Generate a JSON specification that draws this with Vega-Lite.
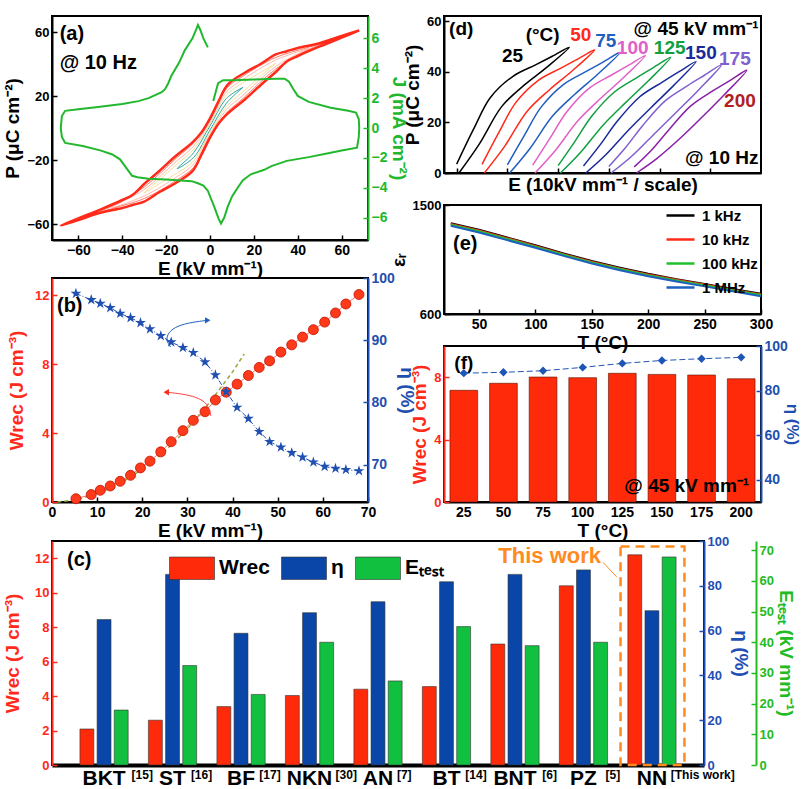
{
"$schema": "https://vega.github.io/schema/vega-lite/v6.json",
"padding": {"left": 2, "top": 14, "right": 0, "bottom": 0},
"background": "white",
"spacing": -7,
"resolve": {"scale": {"color": "independent", "fill": "independent"}, "legend": {"color": "independent", "fill": "independent"}},
"datasets": {
"dsAouter": [{"o":1,"E":68,"P":61},{"o":2,"E":60,"P":57.5},{"o":3,"E":50,"P":53},{"o":4,"E":40,"P":50},{"o":5,"E":35,"P":48},{"o":6,"E":30,"P":46},{"o":7,"E":23,"P":40},{"o":8,"E":16,"P":34.7},{"o":9,"E":8,"P":27},{"o":10,"E":4,"P":17},{"o":11,"E":0,"P":6},{"o":12,"E":-4,"P":-3},{"o":13,"E":-8,"P":-9},{"o":14,"E":-16,"P":-18},{"o":15,"E":-24,"P":-28},{"o":16,"E":-30,"P":-35},{"o":17,"E":-35,"P":-41.5},{"o":18,"E":-40,"P":-45},{"o":19,"E":-50,"P":-51},{"o":20,"E":-60,"P":-56.5},{"o":21,"E":-68,"P":-61},{"o":22,"E":-60,"P":-57.5},{"o":23,"E":-50,"P":-53},{"o":24,"E":-40,"P":-50},{"o":25,"E":-35,"P":-48},{"o":26,"E":-30,"P":-46},{"o":27,"E":-23,"P":-40},{"o":28,"E":-16,"P":-34.7},{"o":29,"E":-8,"P":-27},{"o":30,"E":-4,"P":-17},{"o":31,"E":0,"P":-6},{"o":32,"E":4,"P":3},{"o":33,"E":8,"P":9},{"o":34,"E":16,"P":18},{"o":35,"E":24,"P":28},{"o":36,"E":30,"P":35},{"o":37,"E":35,"P":41.5},{"o":38,"E":40,"P":45},{"o":39,"E":50,"P":51},{"o":40,"E":60,"P":56.5},{"o":41,"E":68,"P":61}],
"dsAinner": [
{"m":"m15","o":1,"E":15,"P":25.4},{"m":"m15","o":2,"E":7.5,"P":18.5},{"m":"m15","o":3,"E":0,"P":1.3},{"m":"m15","o":4,"E":-7.5,"P":-15.5},{"m":"m15","o":5,"E":-15,"P":-25.4},{"m":"m15","o":6,"E":-7.5,"P":-18.5},{"m":"m15","o":7,"E":0,"P":-1.3},{"m":"m15","o":8,"E":7.5,"P":15.5},{"m":"m15","o":9,"E":15,"P":25.4},
{"m":"m30","o":1,"E":30,"P":40.5},{"m":"m30","o":2,"E":22.5,"P":34.3},{"m":"m30","o":3,"E":15,"P":28.2},{"m":"m30","o":4,"E":7.5,"P":20.6},{"m":"m30","o":5,"E":0,"P":2.6},{"m":"m30","o":6,"E":-7.5,"P":-13.4},{"m":"m30","o":7,"E":-15,"P":-22.6},{"m":"m30","o":8,"E":-22.5,"P":-31.7},{"m":"m30","o":9,"E":-30,"P":-40.5},{"m":"m30","o":10,"E":-22.5,"P":-34.3},{"m":"m30","o":11,"E":-15,"P":-28.2},{"m":"m30","o":12,"E":-7.5,"P":-20.6},{"m":"m30","o":13,"E":0,"P":-2.6},{"m":"m30","o":14,"E":7.5,"P":13.4},{"m":"m30","o":15,"E":15,"P":22.6},{"m":"m30","o":16,"E":22.5,"P":31.7},{"m":"m30","o":17,"E":30,"P":40.5},
{"m":"m45","o":1,"E":45,"P":49.8},{"m":"m45","o":2,"E":30,"P":42.5},{"m":"m45","o":3,"E":15,"P":30.4},{"m":"m45","o":4,"E":7.5,"P":22.6},{"m":"m45","o":5,"E":0,"P":4},{"m":"m45","o":6,"E":-7.5,"P":-11.4},{"m":"m45","o":7,"E":-15,"P":-20.4},{"m":"m45","o":8,"E":-30,"P":-38.5},{"m":"m45","o":9,"E":-45,"P":-49.8},{"m":"m45","o":10,"E":-30,"P":-42.5},{"m":"m45","o":11,"E":-15,"P":-30.4},{"m":"m45","o":12,"E":-7.5,"P":-22.6},{"m":"m45","o":13,"E":0,"P":-4},{"m":"m45","o":14,"E":7.5,"P":11.4},{"m":"m45","o":15,"E":15,"P":20.4},{"m":"m45","o":16,"E":30,"P":38.5},{"m":"m45","o":17,"E":45,"P":49.8},
{"m":"m60","o":1,"E":60,"P":57},{"m":"m60","o":2,"E":45,"P":50.5},{"m":"m60","o":3,"E":30,"P":44.1},{"m":"m60","o":4,"E":15,"P":32.4},{"m":"m60","o":5,"E":7.5,"P":24.6},{"m":"m60","o":6,"E":0,"P":5.3},{"m":"m60","o":7,"E":-7.5,"P":-9.4},{"m":"m60","o":8,"E":-15,"P":-18.4},{"m":"m60","o":9,"E":-30,"P":-36.9},{"m":"m60","o":10,"E":-45,"P":-49.1},{"m":"m60","o":11,"E":-60,"P":-57},{"m":"m60","o":12,"E":-45,"P":-50.5},{"m":"m60","o":13,"E":-30,"P":-44.1},{"m":"m60","o":14,"E":-15,"P":-32.4},{"m":"m60","o":15,"E":-7.5,"P":-24.6},{"m":"m60","o":16,"E":0,"P":-5.3},{"m":"m60","o":17,"E":7.5,"P":9.4},{"m":"m60","o":18,"E":15,"P":18.4},{"m":"m60","o":19,"E":30,"P":36.9},{"m":"m60","o":20,"E":45,"P":49.1},{"m":"m60","o":21,"E":60,"P":57}
],
"dsAJ": [{"o":1,"E":1.5,"J":1.8},{"o":2,"E":2.2,"J":2.2},{"o":3,"E":3.7,"J":3.0},{"o":4,"E":6,"J":3.2},{"o":5,"E":10.5,"J":3.2},{"o":6,"E":20,"J":3.25},{"o":7,"E":30,"J":3.3},{"o":8,"E":34,"J":3.3},{"o":9,"E":36,"J":3.1},{"o":10,"E":38,"J":2.6},{"o":11,"E":40,"J":2.15},{"o":12,"E":45,"J":1.75},{"o":13,"E":55,"J":1.36},{"o":14,"E":63,"J":1.15},{"o":15,"E":66.5,"J":1.03},{"o":16,"E":67.8,"J":0.6},{"o":17,"E":68,"J":0},{"o":18,"E":67.8,"J":-0.6},{"o":19,"E":67,"J":-1.32},{"o":20,"E":60,"J":-1.5},{"o":21,"E":55,"J":-1.66},{"o":22,"E":45,"J":-1.95},{"o":23,"E":35,"J":-2.2},{"o":24,"E":28,"J":-2.55},{"o":25,"E":24.7,"J":-2.8},{"o":26,"E":18.6,"J":-3.1},{"o":27,"E":15,"J":-3.5},{"o":28,"E":12.6,"J":-4},{"o":29,"E":10,"J":-4.6},{"o":30,"E":8,"J":-5.3},{"o":31,"E":6.5,"J":-6.0},{"o":32,"E":5,"J":-6.4},{"o":33,"E":4,"J":-6.1},{"o":34,"E":3,"J":-5.7},{"o":35,"E":2,"J":-5.3},{"o":36,"E":-1,"J":-4.2},{"o":37,"E":-3,"J":-3.85},{"o":38,"E":-5.5,"J":-3.7},{"o":39,"E":-8.4,"J":-3.56},{"o":40,"E":-20,"J":-3.45},{"o":41,"E":-28,"J":-3.4},{"o":42,"E":-33,"J":-3.3},{"o":43,"E":-35.5,"J":-3.2},{"o":44,"E":-37,"J":-2.9},{"o":45,"E":-38.5,"J":-2.6},{"o":46,"E":-41,"J":-2.1},{"o":47,"E":-44.5,"J":-1.77},{"o":48,"E":-50,"J":-1.5},{"o":49,"E":-58,"J":-1.2},{"o":50,"E":-66,"J":-1.0},{"o":51,"E":-67.5,"J":-0.6},{"o":52,"E":-68,"J":0},{"o":53,"E":-67.5,"J":0.8},{"o":54,"E":-66,"J":1.15},{"o":55,"E":-60,"J":1.25},{"o":56,"E":-51,"J":1.41},{"o":57,"E":-40,"J":1.6},{"o":58,"E":-32.6,"J":1.8},{"o":59,"E":-28,"J":2.0},{"o":60,"E":-25,"J":2.2},{"o":61,"E":-22,"J":2.4},{"o":62,"E":-20.5,"J":2.6},{"o":63,"E":-19,"J":3.0},{"o":64,"E":-17.6,"J":3.5},{"o":65,"E":-14,"J":4.4},{"o":66,"E":-11.5,"J":5.2},{"o":67,"E":-8,"J":6.0},{"o":68,"E":-6,"J":6.7},{"o":69,"E":-5.5,"J":6.9},{"o":70,"E":-4.5,"J":6.6},{"o":71,"E":-3,"J":6.0},{"o":72,"E":-1,"J":5.4}],
"dsD": [
{"T":"25","o":1,"k":0.09,"P":0},{"T":"25","o":2,"k":0.89,"P":11.4},{"T":"25","o":3,"k":1.78,"P":26.3},{"T":"25","o":4,"k":2.66,"P":34.7},{"T":"25","o":5,"k":3.55,"P":41.7},{"T":"25","o":6,"k":4.44,"P":49.6},{"T":"25","o":7,"k":3.77,"P":46.1},{"T":"25","o":8,"k":3.11,"P":42.7},{"T":"25","o":9,"k":2.22,"P":38.2},{"T":"25","o":10,"k":1.33,"P":29.8},{"T":"25","o":11,"k":0.67,"P":17.4},{"T":"25","o":12,"k":0,"P":3.5},
{"T":"50","o":1,"k":1.09,"P":0},{"T":"50","o":2,"k":1.89,"P":10.5},{"T":"50","o":3,"k":2.78,"P":24.4},{"T":"50","o":4,"k":3.66,"P":32.9},{"T":"50","o":5,"k":4.55,"P":40.3},{"T":"50","o":6,"k":5.44,"P":48.6},{"T":"50","o":7,"k":4.77,"P":45.0},{"T":"50","o":8,"k":4.11,"P":41.4},{"T":"50","o":9,"k":3.22,"P":36.6},{"T":"50","o":10,"k":2.33,"P":27.8},{"T":"50","o":11,"k":1.67,"P":16.1},{"T":"50","o":12,"k":1,"P":3.4},
{"T":"75","o":1,"k":2.09,"P":0},{"T":"75","o":2,"k":2.89,"P":9.7},{"T":"75","o":3,"k":3.78,"P":22.5},{"T":"75","o":4,"k":4.66,"P":31.1},{"T":"75","o":5,"k":5.55,"P":38.9},{"T":"75","o":6,"k":6.44,"P":47.6},{"T":"75","o":7,"k":5.77,"P":43.8},{"T":"75","o":8,"k":5.11,"P":40.1},{"T":"75","o":9,"k":4.22,"P":35.0},{"T":"75","o":10,"k":3.33,"P":26.0},{"T":"75","o":11,"k":2.67,"P":14.9},{"T":"75","o":12,"k":2,"P":3.2},
{"T":"100","o":1,"k":3.09,"P":0},{"T":"100","o":2,"k":3.89,"P":8.9},{"T":"100","o":3,"k":4.78,"P":20.6},{"T":"100","o":4,"k":5.66,"P":29.3},{"T":"100","o":5,"k":6.55,"P":37.4},{"T":"100","o":6,"k":7.44,"P":46.4},{"T":"100","o":7,"k":6.77,"P":42.5},{"T":"100","o":8,"k":6.11,"P":38.7},{"T":"100","o":9,"k":5.22,"P":33.4},{"T":"100","o":10,"k":4.33,"P":24.0},{"T":"100","o":11,"k":3.67,"P":13.6},{"T":"100","o":12,"k":3,"P":3.1},
{"T":"125","o":1,"k":4.09,"P":0},{"T":"125","o":2,"k":4.89,"P":8.2},{"T":"125","o":3,"k":5.78,"P":19.0},{"T":"125","o":4,"k":6.66,"P":27.8},{"T":"125","o":5,"k":7.55,"P":36.3},{"T":"125","o":6,"k":8.44,"P":45.7},{"T":"125","o":7,"k":7.77,"P":41.7},{"T":"125","o":8,"k":7.11,"P":37.7},{"T":"125","o":9,"k":6.22,"P":32.0},{"T":"125","o":10,"k":5.33,"P":22.5},{"T":"125","o":11,"k":4.67,"P":12.6},{"T":"125","o":12,"k":4,"P":2.9},
{"T":"150","o":1,"k":5.09,"P":0},{"T":"150","o":2,"k":5.89,"P":7.3},{"T":"150","o":3,"k":6.78,"P":17.0},{"T":"150","o":4,"k":7.66,"P":25.8},{"T":"150","o":5,"k":8.55,"P":34.5},{"T":"150","o":6,"k":9.44,"P":44.0},{"T":"150","o":7,"k":8.77,"P":40.0},{"T":"150","o":8,"k":8.11,"P":35.9},{"T":"150","o":9,"k":7.22,"P":30.1},{"T":"150","o":10,"k":6.33,"P":20.4},{"T":"150","o":11,"k":5.67,"P":11.3},{"T":"150","o":12,"k":5,"P":2.8},
{"T":"175","o":1,"k":6.09,"P":0},{"T":"175","o":2,"k":6.89,"P":6.5},{"T":"175","o":3,"k":7.78,"P":15.3},{"T":"175","o":4,"k":8.66,"P":24.0},{"T":"175","o":5,"k":9.55,"P":32.9},{"T":"175","o":6,"k":10.44,"P":42.7},{"T":"175","o":7,"k":9.77,"P":38.6},{"T":"175","o":8,"k":9.11,"P":34.5},{"T":"175","o":9,"k":8.22,"P":28.5},{"T":"175","o":10,"k":7.33,"P":18.7},{"T":"175","o":11,"k":6.67,"P":10.2},{"T":"175","o":12,"k":6,"P":2.6},
{"T":"200","o":1,"k":7.09,"P":0},{"T":"200","o":2,"k":7.89,"P":5.7},{"T":"200","o":3,"k":8.78,"P":13.4},{"T":"200","o":4,"k":9.66,"P":21.9},{"T":"200","o":5,"k":10.55,"P":30.9},{"T":"200","o":6,"k":11.44,"P":40.6},{"T":"200","o":7,"k":10.77,"P":36.5},{"T":"200","o":8,"k":10.11,"P":32.5},{"T":"200","o":9,"k":9.22,"P":26.4},{"T":"200","o":10,"k":8.33,"P":16.6},{"T":"200","o":11,"k":7.67,"P":8.9},{"T":"200","o":12,"k":7,"P":2.4}
],
"dsE": [
{"f":"1 kHz","T":25,"e":1350},{"f":"1 kHz","T":50,"e":1295},{"f":"1 kHz","T":75,"e":1232},{"f":"1 kHz","T":100,"e":1168},{"f":"1 kHz","T":125,"e":1100},{"f":"1 kHz","T":150,"e":1037},{"f":"1 kHz","T":175,"e":982},{"f":"1 kHz","T":200,"e":932},{"f":"1 kHz","T":225,"e":888},{"f":"1 kHz","T":250,"e":848},{"f":"1 kHz","T":275,"e":806},{"f":"1 kHz","T":300,"e":767},
{"f":"10 kHz","T":25,"e":1344},{"f":"10 kHz","T":50,"e":1289},{"f":"10 kHz","T":75,"e":1226},{"f":"10 kHz","T":100,"e":1162},{"f":"10 kHz","T":125,"e":1094},{"f":"10 kHz","T":150,"e":1031},{"f":"10 kHz","T":175,"e":976},{"f":"10 kHz","T":200,"e":927},{"f":"10 kHz","T":225,"e":883},{"f":"10 kHz","T":250,"e":843},{"f":"10 kHz","T":275,"e":801},{"f":"10 kHz","T":300,"e":762},
{"f":"100 kHz","T":25,"e":1338},{"f":"100 kHz","T":50,"e":1283},{"f":"100 kHz","T":75,"e":1220},{"f":"100 kHz","T":100,"e":1156},{"f":"100 kHz","T":125,"e":1089},{"f":"100 kHz","T":150,"e":1026},{"f":"100 kHz","T":175,"e":971},{"f":"100 kHz","T":200,"e":921},{"f":"100 kHz","T":225,"e":877},{"f":"100 kHz","T":250,"e":837},{"f":"100 kHz","T":275,"e":796},{"f":"100 kHz","T":300,"e":757},
{"f":"1 MHz","T":25,"e":1328},{"f":"1 MHz","T":50,"e":1273},{"f":"1 MHz","T":75,"e":1210},{"f":"1 MHz","T":100,"e":1147},{"f":"1 MHz","T":125,"e":1080},{"f":"1 MHz","T":150,"e":1017},{"f":"1 MHz","T":175,"e":962},{"f":"1 MHz","T":200,"e":912},{"f":"1 MHz","T":225,"e":868},{"f":"1 MHz","T":250,"e":828},{"f":"1 MHz","T":275,"e":787},{"f":"1 MHz","T":300,"e":747}
],
"dsB": [{"E":5.3,"W":0.19,"eta":97.5},{"E":8.7,"W":0.43,"eta":96.5},{"E":10.7,"W":0.68,"eta":95.9},{"E":12.9,"W":0.93,"eta":95.2},{"E":15.1,"W":1.20,"eta":94.3},{"E":17.4,"W":1.55,"eta":93.6},{"E":19.6,"W":1.98,"eta":92.8},{"E":21.7,"W":2.37,"eta":91.8},{"E":24.1,"W":2.91,"eta":90.7},{"E":26.4,"W":3.50,"eta":89.7},{"E":29.0,"W":4.14,"eta":88.8},{"E":31.3,"W":4.74,"eta":88.0},{"E":33.9,"W":5.24,"eta":86.5},{"E":36.2,"W":5.92,"eta":84.4},{"E":38.6,"W":6.37,"eta":81.7},{"E":41.0,"W":6.84,"eta":79.2},{"E":43.5,"W":7.34,"eta":77.4},{"E":45.9,"W":7.81,"eta":75.3},{"E":48.2,"W":8.19,"eta":73.7},{"E":50.7,"W":8.70,"eta":72.8},{"E":53.1,"W":9.12,"eta":71.9},{"E":55.5,"W":9.57,"eta":71.2},{"E":57.9,"W":10.00,"eta":70.4},{"E":60.4,"W":10.44,"eta":69.7},{"E":62.8,"W":10.97,"eta":69.4},{"E":65.1,"W":11.49,"eta":69.2},{"E":68.0,"W":12.04,"eta":69.0}],
"dsBfit": [{"E":1.2,"W":0},{"E":5,"W":0.12},{"E":10,"W":0.47},{"E":15,"W":1.06},{"E":20,"W":1.9},{"E":25,"W":2.95},{"E":30,"W":4.25},{"E":35,"W":5.8},{"E":40,"W":7.55},{"E":42.6,"W":8.6}],
"dsF": [{"T":"25","W":7.16,"eta":87.8},{"T":"50","W":7.61,"eta":88.2},{"T":"75","W":8.01,"eta":88.9},{"T":"100","W":7.97,"eta":90.4},{"T":"125","W":8.25,"eta":92.2},{"T":"150","W":8.18,"eta":93.5},{"T":"175","W":8.14,"eta":94.3},{"T":"200","W":7.90,"eta":94.9}],
"dsC": [
{"m":"BKT","s":"W","v":2.09},{"m":"BKT","s":"eta","v":64.9},{"m":"BKT","s":"E","v":17.9},
{"m":"ST","s":"W","v":2.6},{"m":"ST","s":"eta","v":85.1},{"m":"ST","s":"E","v":32.4},
{"m":"BF","s":"W","v":3.39},{"m":"BF","s":"eta","v":58.8},{"m":"BF","s":"E","v":23.0},
{"m":"NKN","s":"W","v":4.03},{"m":"NKN","s":"eta","v":68.0},{"m":"NKN","s":"E","v":40.0},
{"m":"AN","s":"W","v":4.4},{"m":"AN","s":"eta","v":72.9},{"m":"AN","s":"E","v":27.4},
{"m":"BT","s":"W","v":4.55},{"m":"BT","s":"eta","v":81.8},{"m":"BT","s":"E","v":45.1},
{"m":"BNT","s":"W","v":7.02},{"m":"BNT","s":"eta","v":85.1},{"m":"BNT","s":"E","v":38.9},
{"m":"PZ","s":"W","v":10.4},{"m":"PZ","s":"eta","v":87.1},{"m":"PZ","s":"E","v":40.0},
{"m":"NN","s":"W","v":12.2},{"m":"NN","s":"eta","v":68.9},{"m":"NN","s":"E","v":67.8}
]
},
"vconcat": [
{"spacing": -29, "resolve": {"scale": {"color": "independent", "fill": "independent"}, "legend": {"color": "independent", "fill": "independent"}}, "hconcat": [
 {"bounds": "flush", "spacing": 38, "resolve": {"scale": {"color": "independent", "fill": "independent"}, "legend": {"color": "independent", "fill": "independent"}}, "vconcat": [
  {"width": 316, "height": 224,
   "layer": [
    {"layer": [
     {"data": {"name": "dsAouter"}, "mark": {"type": "point", "opacity": 0},
      "encoding": {"x": {"field": "E", "type": "quantitative", "scale": {"domain": [-72, 72], "nice": false}, "axis": {"values": [-60, -40, -20, 0, 20, 40, 60], "title": "E (kV mm⁻¹)", "labelOverlap": false}},
       "y": {"field": "P", "type": "quantitative", "scale": {"domain": [-70, 70], "nice": false}, "axis": {"values": [-60, -40, -20, 0, 20, 40, 60], "title": "P (μC cm⁻²)", "labelOverlap": false, "labelFontSize": 13, "titlePadding": 4}}}},
     {"mark": {"type": "rule", "color": "black", "strokeWidth": 2}, "encoding": {"x": {"datum": 0, "type": "quantitative"}}},
     {"mark": {"type": "rule", "color": "black", "strokeWidth": 2}, "encoding": {"y": {"datum": 0, "type": "quantitative"}}},
     {"mark": {"type": "rule", "color": "#9a7fe0", "strokeWidth": 1.8, "strokeDash": [2, 4]}, "encoding": {"x": {"datum": 35.5, "type": "quantitative"}}},
     {"data": {"name": "dsAinner"}, "mark": {"type": "line", "strokeWidth": 1, "interpolate": "catmull-rom"},
      "encoding": {"x": {"field": "E", "type": "quantitative"},
       "y": {"field": "P", "type": "quantitative"},
       "order": {"field": "o"},
       "color": {"field": "m", "type": "nominal", "scale": {"domain": ["m15", "m30", "m45", "m60"], "range": ["#30a8a0", "#f6e09a", "#ffb8a8", "#ff7a68"]}, "legend": null}}},
     {"data": {"name": "dsAouter"}, "mark": {"type": "line", "color": "#ff2a1a", "strokeWidth": 2.5, "interpolate": "catmull-rom"},
      "encoding": {"x": {"field": "E", "type": "quantitative"}, "y": {"field": "P", "type": "quantitative"}, "order": {"field": "o"}}},
     {"data": {"values": [{"E": -68.5, "P": 59, "t": "(a)"}, {"E": -68.5, "P": 40.5, "t": "@ 10 Hz"}]}, "mark": {"type": "text", "align": "left", "fontSize": 20, "fontWeight": "bold"},
      "encoding": {"x": {"field": "E", "type": "quantitative"}, "y": {"field": "P", "type": "quantitative"}, "text": {"field": "t"}}}
    ]},
    {"data": {"name": "dsAJ"}, "mark": {"type": "line", "color": "#22b82e", "strokeWidth": 2},
     "encoding": {"x": {"field": "E", "type": "quantitative"},
      "y": {"field": "J", "type": "quantitative", "scale": {"domain": [-7.5, 7.5], "nice": false}, "axis": {"orient": "right", "values": [-6, -4, -2, 0, 2, 4, 6], "title": "J (mA cm⁻²)", "labelOverlap": false, "domainColor": "#22b82e", "labelColor": "#22b82e", "tickColor": "#22b82e", "titleColor": "#22b82e"}},
      "order": {"field": "o"}}}
   ],
   "resolve": {"scale": {"y": "independent"}}
  },
  {"width": 316, "height": 224,
   "layer": [
    {"layer": [
     {"data": {"name": "dsBfit"}, "mark": {"type": "line", "color": "#9aa83a", "strokeWidth": 1.5, "strokeDash": [4, 3]},
      "encoding": {"x": {"field": "E", "type": "quantitative", "scale": {"domain": [0, 70], "nice": false}, "axis": {"values": [0, 10, 20, 30, 40, 50, 60, 70], "title": "E (kV mm⁻¹)", "labelOverlap": false}},
       "y": {"field": "W", "type": "quantitative", "scale": {"domain": [0, 13], "nice": false}, "axis": {"values": [0, 2, 4, 6, 8, 10, 12], "title": "Wrec (J cm⁻³)", "labelOverlap": false, "labelFontSize": 13, "titlePadding": 8, "domainColor": "#ff2a1a", "labelColor": "#ff2a1a", "tickColor": "#ff2a1a", "titleColor": "#ff2a1a"}}}},
     {"data": {"name": "dsB"}, "mark": {"type": "line", "color": "#ff7070", "strokeWidth": 1},
      "encoding": {"x": {"field": "E", "type": "quantitative"}, "y": {"field": "W", "type": "quantitative"}}},
     {"data": {"name": "dsB"}, "mark": {"type": "point", "shape": "circle", "filled": true, "size": 100, "fill": "#ff3a1a", "stroke": "#c01000", "strokeWidth": 0.8, "opacity": 1},
      "encoding": {"x": {"field": "E", "type": "quantitative"}, "y": {"field": "W", "type": "quantitative"}}},
     {"data": {"values": [{"o": 1, "E": 35.2, "W": 5.0}, {"o": 2, "E": 34.6, "W": 5.6}, {"o": 3, "E": 33.2, "W": 5.95}, {"o": 4, "E": 30.5, "W": 6.2}, {"o": 5, "E": 27, "W": 6.33}, {"o": 6, "E": 25.3, "W": 6.37}]},
      "mark": {"type": "line", "color": "#ff4040", "strokeWidth": 1, "interpolate": "basis"},
      "encoding": {"x": {"field": "E", "type": "quantitative"}, "y": {"field": "W", "type": "quantitative"}, "order": {"field": "o"}}},
     {"data": {"values": [{"E": 25.3, "W": 6.37}]}, "mark": {"type": "point", "shape": "triangle-left", "filled": true, "size": 40, "color": "#ff2a1a", "opacity": 1},
      "encoding": {"x": {"field": "E", "type": "quantitative"}, "y": {"field": "W", "type": "quantitative"}}},
     {"data": {"values": [{"E": 1.1, "W": 11.4, "t": "(b)"}]}, "mark": {"type": "text", "align": "left", "fontSize": 20, "fontWeight": "bold"},
      "encoding": {"x": {"field": "E", "type": "quantitative"}, "y": {"field": "W", "type": "quantitative"}, "text": {"field": "t"}}}
    ]},
    {"layer": [
     {"data": {"name": "dsB"}, "mark": {"type": "line", "color": "#1f4fb0", "strokeWidth": 1, "strokeDash": [5, 2, 1, 2]},
      "encoding": {"x": {"field": "E", "type": "quantitative"},
       "y": {"field": "eta", "type": "quantitative", "scale": {"domain": [64, 100], "nice": false}, "axis": {"orient": "right", "values": [70, 80, 90, 100], "title": "η (%)", "labelOverlap": false, "domainColor": "#1f4fb0", "labelColor": "#1f4fb0", "tickColor": "#1f4fb0", "titleColor": "#1f4fb0"}}}},
     {"data": {"name": "dsB"}, "mark": {"type": "point", "shape": "M0,-1L0.2245,-0.309L0.9511,-0.309L0.3633,0.118L0.5878,0.809L0,0.382L-0.5878,0.809L-0.3633,0.118L-0.9511,-0.309L-0.2245,-0.309Z", "filled": true, "size": 130, "color": "#1f4fb0", "opacity": 1},
      "encoding": {"x": {"field": "E", "type": "quantitative"}, "y": {"field": "eta", "type": "quantitative"}}},
     {"data": {"values": [{"o": 1, "E": 26.3, "eta": 88.9}, {"o": 2, "E": 25.2, "eta": 90.0}, {"o": 3, "E": 25.8, "eta": 91.3}, {"o": 4, "E": 27.7, "eta": 92.3}, {"o": 5, "E": 31, "eta": 92.9}, {"o": 6, "E": 34.5, "eta": 93.2}]},
      "mark": {"type": "line", "color": "#1f5fc0", "strokeWidth": 1, "interpolate": "basis"},
      "encoding": {"x": {"field": "E", "type": "quantitative"}, "y": {"field": "eta", "type": "quantitative"}, "order": {"field": "o"}}},
     {"data": {"values": [{"E": 34.5, "eta": 93.2}]}, "mark": {"type": "point", "shape": "triangle-right", "filled": true, "size": 40, "color": "#1f5fc0", "opacity": 1},
      "encoding": {"x": {"field": "E", "type": "quantitative"}, "y": {"field": "eta", "type": "quantitative"}}}
    ]}
   ],
   "resolve": {"scale": {"y": "independent"}}
  }
 ]},
 {"bounds": "flush", "spacing": 32, "resolve": {"scale": {"color": "independent", "fill": "independent"}, "legend": {"color": "independent", "fill": "independent"}}, "vconcat": [
   {"width": 317, "height": 157,
    "layer": [
     {"data": {"name": "dsD"}, "mark": {"type": "point", "opacity": 0},
      "encoding": {"x": {"field": "k", "type": "quantitative", "scale": {"domain": [-0.5, 12], "nice": false}, "axis": {"values": [0, 1, 2, 3, 4, 5, 6, 7, 8, 9, 10, 11], "labels": false, "title": "E (10kV mm⁻¹ / scale)", "titlePadding": 2}},
       "y": {"field": "P", "type": "quantitative", "scale": {"domain": [0, 62], "nice": false}, "axis": {"values": [0, 10, 20, 30, 40, 50, 60], "title": "P (μC cm⁻²)", "labelOverlap": false, "labelFontSize": 13, "titlePadding": 4}}}},
     {"data": {"name": "dsD"}, "mark": {"type": "line", "strokeWidth": 1.5, "interpolate": "catmull-rom"},
      "encoding": {"x": {"field": "k", "type": "quantitative"},
       "y": {"field": "P", "type": "quantitative"},
       "color": {"field": "T", "type": "nominal", "scale": {"domain": ["25", "50", "75", "100", "125", "150", "175", "200"], "range": ["#000000", "#ff2a1a", "#1f5fbf", "#e060c8", "#10a040", "#1a2a9a", "#8060d0", "#8a20a8"]}, "legend": null},
       "order": {"field": "o"}}},
     {"data": {"values": [{"T": "25", "k": 2.2, "P": 46.4}, {"T": "50", "k": 4.89, "P": 54.3}, {"T": "75", "k": 5.88, "P": 52.3}, {"T": "100", "k": 6.94, "P": 49.5}, {"T": "125", "k": 8.4, "P": 49.5}, {"T": "150", "k": 9.63, "P": 47.2}, {"T": "175", "k": 10.97, "P": 45.2}, {"T": "200", "k": 11.17, "P": 28.6}]},
      "mark": {"type": "text", "fontSize": 19, "fontWeight": "bold"},
      "encoding": {"x": {"field": "k", "type": "quantitative"}, "y": {"field": "P", "type": "quantitative"}, "text": {"field": "T"},
       "fill": {"field": "T", "type": "nominal", "scale": {"domain": ["25", "50", "75", "100", "125", "150", "175", "200"], "range": ["#000000", "#ff2a1a", "#1f5fbf", "#e060c8", "#10a040", "#1a2a9a", "#8060d0", "#b02020"]}, "legend": null}}},
     {"data": {"values": [{"k": 3.39, "P": 54.3, "t": "(°C)"}]}, "mark": {"type": "text", "align": "center", "fontSize": 19, "fontWeight": "bold"},
      "encoding": {"x": {"field": "k", "type": "quantitative"}, "y": {"field": "P", "type": "quantitative"}, "text": {"field": "t"}}},
     {"data": {"values": [{"k": -0.3, "P": 57, "t": "(d)"}]}, "mark": {"type": "text", "align": "left", "fontSize": 19, "fontWeight": "bold"},
      "encoding": {"x": {"field": "k", "type": "quantitative"}, "y": {"field": "P", "type": "quantitative"}, "text": {"field": "t"}}},
     {"data": {"values": [{"k": 11.9, "P": 57, "t": "@ 45 kV mm⁻¹"}, {"k": 11.9, "P": 6, "t": "@ 10 Hz"}]}, "mark": {"type": "text", "align": "right", "fontSize": 19, "fontWeight": "bold"},
      "encoding": {"x": {"field": "k", "type": "quantitative"}, "y": {"field": "P", "type": "quantitative"}, "text": {"field": "t"}}}
    ]
   },
   {"width": 317, "height": 109,
    "layer": [
     {"data": {"name": "dsE"}, "mark": {"type": "point", "opacity": 0},
      "encoding": {"x": {"field": "T", "type": "quantitative", "scale": {"domain": [19, 300], "nice": false}, "axis": {"values": [50, 100, 150, 200, 250, 300], "title": "T (°C)", "labelOverlap": false}},
       "y": {"field": "e", "type": "quantitative", "scale": {"domain": [600, 1500], "nice": false}, "axis": {"values": [600, 900, 1200, 1500], "format": "d", "title": "εᵣ", "labelOverlap": false, "labelFontSize": 13, "titlePadding": 4}}}},
     {"data": {"name": "dsE"}, "mark": {"type": "line", "strokeWidth": 2},
      "encoding": {"x": {"field": "T", "type": "quantitative"},
       "y": {"field": "e", "type": "quantitative"},
       "color": {"field": "f", "type": "nominal", "sort": null, "scale": {"domain": ["1 kHz", "10 kHz", "100 kHz", "1 MHz"], "range": ["#000000", "#ff2a1a", "#22c02e", "#1f5fbf"]},
        "legend": {"title": null, "orient": "none", "legendX": 221, "legendY": -5, "symbolType": "stroke", "symbolSize": 784, "symbolStrokeWidth": 2.5, "labelFontSize": 15, "labelFontWeight": "bold", "labelFont": "Liberation Sans", "rowPadding": -9.5, "labelOffset": 6, "padding": 0}}}},
     {"data": {"values": [{"T": 27, "e": 1178, "t": "(e)"}]}, "mark": {"type": "text", "align": "left", "fontSize": 20, "fontWeight": "bold"},
      "encoding": {"x": {"field": "T", "type": "quantitative"}, "y": {"field": "e", "type": "quantitative"}, "text": {"field": "t"}}}
    ]
   },
  {"width": 317, "height": 156,
   "layer": [
    {"layer": [
     {"data": {"name": "dsF"}, "mark": {"type": "bar", "color": "#ff2a0a", "stroke": "#5a1000", "strokeWidth": 0.6},
      "encoding": {"x": {"field": "T", "type": "ordinal", "sort": ["25", "50", "75", "100", "125", "150", "175", "200"], "scale": {"paddingInner": 0.3, "paddingOuter": 0.15}, "axis": {"labelAngle": 0, "title": "T (°C)"}},
       "y": {"field": "W", "type": "quantitative", "scale": {"domain": [0, 10], "nice": false}, "axis": {"values": [0, 2, 4, 6, 8, 10], "title": "Wrec (J cm⁻³)", "labelOverlap": false, "labelFontSize": 13, "titlePadding": 4, "domainColor": "#ff2a1a", "labelColor": "#ff2a1a", "tickColor": "#ff2a1a", "titleColor": "#ff2a1a"}}}},
     {"data": {"values": [{"T": "25", "W": 8.9, "t": "(f)"}]}, "mark": {"type": "text", "align": "center", "fontSize": 19, "fontWeight": "bold"},
      "encoding": {"x": {"field": "T", "type": "ordinal", "sort": ["25", "50", "75", "100", "125", "150", "175", "200"]}, "y": {"field": "W", "type": "quantitative"}, "text": {"field": "t"}}},
     {"data": {"values": [{"T": "200", "W": 1.0, "t": "@ 45 kV mm⁻¹"}]}, "mark": {"type": "text", "align": "right", "fontSize": 19, "fontWeight": "bold", "dx": 8},
      "encoding": {"x": {"field": "T", "type": "ordinal", "sort": ["25", "50", "75", "100", "125", "150", "175", "200"]}, "y": {"field": "W", "type": "quantitative"}, "text": {"field": "t"}}}
    ]},
    {"layer": [
     {"data": {"name": "dsF"}, "mark": {"type": "line", "color": "#1f55b5", "strokeWidth": 1, "strokeDash": [6, 3]},
      "encoding": {"x": {"field": "T", "type": "ordinal", "sort": ["25", "50", "75", "100", "125", "150", "175", "200"]},
       "y": {"field": "eta", "type": "quantitative", "scale": {"domain": [30, 100], "nice": false}, "axis": {"orient": "right", "values": [40, 60, 80, 100], "title": "η (%)", "titlePadding": -5, "titleFontSize": 17, "labelOverlap": false, "domainColor": "#1f4fb0", "labelColor": "#1f4fb0", "tickColor": "#1f4fb0", "titleColor": "#1f4fb0"}}}},
     {"data": {"name": "dsF"}, "mark": {"type": "point", "shape": "diamond", "filled": true, "size": 70, "color": "#1f55b5", "opacity": 1},
      "encoding": {"x": {"field": "T", "type": "ordinal", "sort": ["25", "50", "75", "100", "125", "150", "175", "200"]}, "y": {"field": "eta", "type": "quantitative"}}}
    ]}
   ],
   "resolve": {"scale": {"y": "independent"}}
  }
 ]}
]},
{"width": 652, "height": 224,
 "layer": [
  {"layer": [
   {"data": {"name": "dsC"}, "transform": [{"filter": "datum.s == 'W'"}],
    "mark": {"type": "bar", "stroke": "#333333", "strokeWidth": 0.6},
    "encoding": {"x": {"field": "m", "type": "nominal", "sort": ["BKT", "ST", "BF", "NKN", "AN", "BT", "BNT", "PZ", "NN"], "scale": {"paddingInner": 0, "paddingOuter": 0.26}, "axis": {"labelAngle": 0, "title": null, "labelFontSize": 21, "domainWidth": 4, "labelPadding": 7}},
     "xOffset": {"field": "s", "type": "nominal", "scale": {"domain": ["W", "eta", "E"], "paddingInner": 0.19, "paddingOuter": 0.59}},
     "y": {"field": "v", "type": "quantitative", "scale": {"domain": [0, 13], "nice": false}, "axis": {"values": [0, 2, 4, 6, 8, 10, 12], "title": "Wrec (J cm⁻³)", "titlePadding": 12, "labelFontSize": 13, "labelOverlap": false, "domainColor": "#ff2a1a", "labelColor": "#ff2a1a", "tickColor": "#ff2a1a", "titleColor": "#ff2a1a"}},
     "color": {"field": "s", "type": "nominal", "scale": {"domain": ["W", "eta", "E"], "range": ["#ff2a0a", "#0a46a8", "#12c040"]},
      "legend": {"title": null, "orient": "none", "legendX": 117, "legendY": 4, "direction": "horizontal", "symbolType": "M-1,-0.5L1,-0.5L1,0.5L-1,0.5Z", "symbolSize": 2025, "symbolStrokeColor": "#333333", "symbolStrokeWidth": 0.6, "labelFontSize": 21, "labelFontWeight": "bold", "labelFont": "Liberation Sans", "labelOffset": 4, "columnPadding": 10, "labelExpr": "datum.label == 'W' ? 'Wrec' : datum.label == 'eta' ? 'η' : 'Eₜₑₛₜ'"}}}},
   {"data": {"name": "dsC"}, "transform": [{"filter": "datum.s == 'eta'"}],
    "mark": {"type": "bar", "stroke": "#333333", "strokeWidth": 0.6},
    "encoding": {"x": {"field": "m", "type": "nominal", "sort": ["BKT", "ST", "BF", "NKN", "AN", "BT", "BNT", "PZ", "NN"]},
     "xOffset": {"field": "s", "type": "nominal"},
     "y": {"field": "v", "type": "quantitative", "scale": {"domain": [0, 100], "nice": false}, "axis": {"orient": "right", "values": [0, 20, 40, 60, 80, 100], "title": "η (%)", "labelFontSize": 13, "labelOverlap": false, "domainColor": "#1f4fb5", "labelColor": "#1f4fb5", "tickColor": "#1f4fb5", "titleColor": "#1f4fb5"}},
     "color": {"field": "s", "type": "nominal"}}},
   {"data": {"name": "dsC"}, "transform": [{"filter": "datum.s == 'E'"}],
    "mark": {"type": "bar", "stroke": "#333333", "strokeWidth": 0.6},
    "encoding": {"x": {"field": "m", "type": "nominal", "sort": ["BKT", "ST", "BF", "NKN", "AN", "BT", "BNT", "PZ", "NN"]},
     "xOffset": {"field": "s", "type": "nominal"},
     "y": {"field": "v", "type": "quantitative", "scale": {"domain": [0, 73], "nice": false}, "axis": {"orient": "right", "offset": 52, "values": [0, 10, 20, 30, 40, 50, 60, 70], "title": "Eₜₑₛₜ (kV mm⁻¹)", "labelFontSize": 13, "labelOverlap": false, "domainColor": "#22bb22", "labelColor": "#22bb22", "tickColor": "#22bb22", "titleColor": "#22bb22"}},
     "color": {"field": "s", "type": "nominal"}}}
  ], "resolve": {"scale": {"y": "independent"}}},
  {"layer": [
   {"data": {"values": [{"xf": 0.023, "yf": 0.915, "t": "(c)"}]}, "mark": {"type": "text", "align": "left", "fontSize": 20, "fontWeight": "bold"},
    "encoding": {"x": {"field": "xf", "type": "quantitative", "scale": {"domain": [0, 1], "nice": false}, "axis": null}, "y": {"field": "yf", "type": "quantitative", "scale": {"domain": [0, 1], "nice": false}, "axis": null}, "text": {"field": "t"}}},
   {"data": {"values": [{"xf": 0.842, "yf": 0.933, "t": "This work"}]}, "mark": {"type": "text", "align": "right", "fontSize": 22, "fontWeight": "bold", "color": "#ff8a1e"},
    "encoding": {"x": {"field": "xf", "type": "quantitative"}, "y": {"field": "yf", "type": "quantitative"}, "text": {"field": "t"}}},
   {"data": {"values": [{"xf": 0.122, "yf": -0.045, "t": "[15]"}, {"xf": 0.213, "yf": -0.045, "t": "[16]"}, {"xf": 0.318, "yf": -0.045, "t": "[17]"}, {"xf": 0.435, "yf": -0.045, "t": "[30]"}, {"xf": 0.529, "yf": -0.045, "t": "[7]"}, {"xf": 0.634, "yf": -0.045, "t": "[14]"}, {"xf": 0.752, "yf": -0.045, "t": "[6]"}, {"xf": 0.849, "yf": -0.045, "t": "[5]"}, {"xf": 0.949, "yf": -0.045, "t": "[This work]"}]},
    "mark": {"type": "text", "align": "left", "fontSize": 12, "fontWeight": "bold"},
    "encoding": {"x": {"field": "xf", "type": "quantitative"}, "y": {"field": "yf", "type": "quantitative"}, "text": {"field": "t"}}},
   {"data": {"values": [{"x1": 0.872, "x2": 0.97, "y1": 0, "y2": 0.975}]}, "mark": {"type": "rect", "fill": "transparent", "stroke": "#ff8a1e", "strokeWidth": 2.5, "strokeDash": [9, 6]},
    "encoding": {"x": {"field": "x1", "type": "quantitative"}, "x2": {"field": "x2"}, "y": {"field": "y1", "type": "quantitative"}, "y2": {"field": "y2"}}},
   {"data": {"values": [{"o": 1, "xf": 0.845, "yf": 0.905}, {"o": 2, "xf": 0.866, "yf": 0.84}]}, "mark": {"type": "line", "color": "#ff8a1e", "strokeWidth": 1},
    "encoding": {"x": {"field": "xf", "type": "quantitative"}, "y": {"field": "yf", "type": "quantitative"}, "order": {"field": "o"}}}
  ]}
 ],
 "resolve": {"scale": {"x": "independent", "y": "independent"}}
}
],
"config": {
 "font": "Liberation Sans",
 "view": {"stroke": "black", "strokeWidth": 2},
 "axis": {"labelFont": "Liberation Sans", "labelFontWeight": "bold", "labelFontSize": 14, "labelColor": "black", "titleFont": "Liberation Sans", "titleFontWeight": "bold", "titleFontSize": 19, "titleColor": "black", "domainColor": "black", "domainWidth": 2, "tickColor": "black", "tickWidth": 1.5, "tickSize": -5, "labelPadding": 8, "grid": false, "labelFlush": false, "labelOverlap": false, "titlePadding": 2},
 "text": {"font": "Liberation Sans", "fontWeight": "bold"},
 "legend": {"labelFont": "Liberation Sans"}
}
}
